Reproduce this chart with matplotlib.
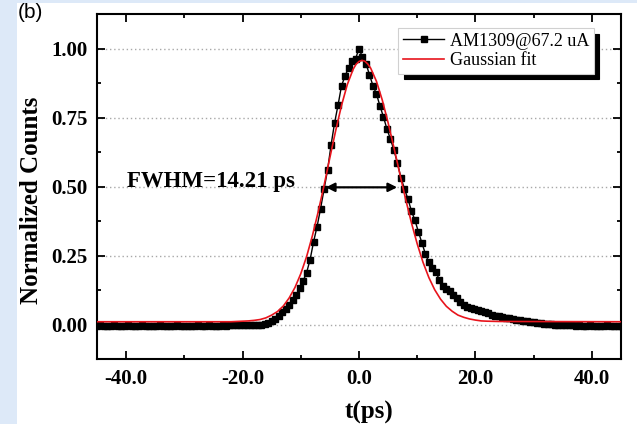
import numpy as np
import matplotlib
matplotlib.use("Agg")
import matplotlib.pyplot as plt
from matplotlib.patches import Rectangle
from matplotlib.lines import Line2D
from matplotlib.ticker import MultipleLocator, FormatStrFormatter

plt.rcParams['font.family'] = ['Liberation Serif', 'DejaVu Serif']
plt.rcParams['axes.unicode_minus'] = False

# ---------------- data ----------------
t_start = -45.0
t_step = 0.6
counts = [
    -0.004, -0.003, -0.005, -0.004, -0.004, -0.003, -0.005, -0.004, -0.004, -0.003,
    -0.004, -0.005, -0.004, -0.003, -0.004, -0.004, -0.005, -0.004, -0.003, -0.004,
    -0.004, -0.004, -0.005, -0.003, -0.004, -0.004, -0.004, -0.005, -0.004, -0.003,
    -0.004, -0.004, -0.003, -0.004, -0.005, -0.004, -0.003, -0.004, -0.003, -0.003,
    -0.003, -0.003, -0.002, -0.003, -0.002, -0.002, -0.001,
    0.000, 0.002, 0.006, 0.013, 0.021, 0.031, 0.044, 0.056, 0.070, 0.087,
    0.106, 0.132, 0.158, 0.188, 0.235, 0.300, 0.355, 0.420, 0.490, 0.560,
    0.650, 0.730, 0.795, 0.865, 0.900, 0.930, 0.955, 0.962, 1.000, 0.968,
    0.945, 0.905, 0.865, 0.835, 0.792, 0.752, 0.708, 0.672, 0.632, 0.585,
    0.532, 0.492, 0.455, 0.412, 0.378, 0.336, 0.296, 0.256, 0.226, 0.205,
    0.190, 0.162, 0.141, 0.130, 0.121, 0.108, 0.097, 0.080, 0.070, 0.064,
    0.060, 0.056, 0.053, 0.050, 0.046, 0.040, 0.035, 0.032, 0.029, 0.026,
    0.024, 0.022, 0.020, 0.018, 0.016, 0.014, 0.012, 0.010, 0.008, 0.006,
    0.005, 0.003, 0.002, 0.001,
    0.000, -0.001, -0.002, -0.002, -0.003, -0.003, -0.004, -0.003, -0.004, -0.004,
    -0.003, -0.004, -0.005, -0.004, -0.004, -0.003, -0.004, -0.004, -0.005, -0.004,
]
t = t_start + t_step * np.arange(len(counts))

fit_t = [-45, -24, -22, -20, -19, -18, -17, -16, -15, -14, -13, -12, -11, -10,
         -9, -8, -7, -6, -5, -4, -3, -2, -1, -0.5, 0, 0.5, 1, 1.5, 2, 3, 4, 5,
         6, 7, 8, 9, 10, 11, 12, 13, 14, 15, 16, 17, 18, 19, 20, 21, 22, 24, 45]
fit_y = [0.010, 0.010, 0.010, 0.012, 0.013, 0.015, 0.018, 0.024, 0.034, 0.047,
         0.067, 0.096, 0.134, 0.184, 0.246, 0.322, 0.409, 0.504, 0.605, 0.703,
         0.794, 0.870, 0.925, 0.943, 0.953, 0.957, 0.954, 0.944, 0.929, 0.881,
         0.813, 0.731, 0.641, 0.547, 0.455, 0.369, 0.292, 0.225, 0.170, 0.126,
         0.092, 0.066, 0.048, 0.034, 0.026, 0.020, 0.016, 0.013, 0.012, 0.011,
         0.010]

series_label = "AM1309@67.2 uA"
fit_label = "Gaussian fit"
fwhm_text = "FWHM=14.21 ps"
fwhm_span = [-5.7, 6.55]
fwhm_level = 0.497
x_ticks = [-40, -20, 0, 20, 40]
y_ticks = [0.0, 0.25, 0.5, 0.75, 1.0]

# ---------------- figure ----------------
W, H = 637, 424
fig = plt.figure(figsize=(W / 100, H / 100), dpi=100)
fig.patch.set_facecolor('white')
bg = '#dde9f8'
fig.patches.append(Rectangle((0, 0), 17 / W, 1, transform=fig.transFigure,
                             facecolor=bg, edgecolor='none', zorder=-10))
fig.patches.append(Rectangle((0, 1 - 3 / H), 1, 3 / H, transform=fig.transFigure,
                             facecolor=bg, edgecolor='none', zorder=-10))
fig.text(18 / W, 1 - 12 / H, "(b)", family='Liberation Sans', fontsize=15,
         ha='left', va='center')

ax = fig.add_axes([97 / W, 1 - 359 / H, 524 / W, 345 / H])
ax.set_xlim(-45, 45)
ax.set_ylim(-0.125, 1.125)

ax.set_xticks(x_ticks)
ax.set_yticks(y_ticks)
ax.xaxis.set_minor_locator(MultipleLocator(10))
ax.yaxis.set_minor_locator(MultipleLocator(0.125))
ax.xaxis.set_major_formatter(FormatStrFormatter('%.1f'))
ax.yaxis.set_major_formatter(FormatStrFormatter('%.2f'))

ax.yaxis.grid(True, which='major', color='#a8a8a8', linestyle=(0, (1, 2)),
              linewidth=1.0)
ax.set_axisbelow(True)

ax.plot(t, counts, '-s', color='black', lw=1.0, markersize=5.0, zorder=2)
ax.plot(fit_t, fit_y, '-', color='#e8141c', lw=1.2, zorder=3)

ax.annotate('', xy=(fwhm_span[1], fwhm_level), xytext=(fwhm_span[0], fwhm_level),
            arrowprops=dict(arrowstyle='<|-|>', color='black', lw=1.6,
                            mutation_scale=13, shrinkA=0, shrinkB=0), zorder=4)
ax.text(-39.8, 0.518, fwhm_text, fontsize=16.5, fontweight='bold',
        ha='left', va='center')

for s in ax.spines.values():
    s.set_linewidth(1.5)
ax.tick_params(which='both', direction='in', top=True, right=True, width=1.3)
ax.tick_params(which='major', length=6, labelsize=15, pad=7)
ax.tick_params(which='minor', length=3)
for lab in ax.get_xticklabels() + ax.get_yticklabels():
    lab.set_fontweight('bold')

ax.set_xlabel('t(ps)', fontsize=18, fontweight='bold', labelpad=9)
ax.set_ylabel('Normalized Counts', fontsize=18, fontweight='bold', labelpad=6)
ax.xaxis.label.set_x(0.519)
ax.yaxis.label.set_y(0.46)

handles = [Line2D([], [], color='black', marker='s', markersize=5.0, lw=1.0),
           Line2D([], [], color='#e8141c', lw=1.2)]
leg = ax.legend(handles, [series_label, fit_label], loc='upper right',
                bbox_to_anchor=(0.948, 0.959), borderaxespad=0,
                fancybox=False, shadow={'color': 'black', 'alpha': 1, 'ox': 4, 'oy': -4},
                framealpha=1, edgecolor='#d0d0d0',
                prop={'family': 'Liberation Serif', 'size': 13},
                handlelength=2.3, handletextpad=0.3, borderpad=0.25,
                labelspacing=0.15)
leg.get_frame().set_linewidth(0.8)
leg.set_zorder(5)

fig.savefig('out.png', dpi=100, facecolor=fig.get_facecolor())
